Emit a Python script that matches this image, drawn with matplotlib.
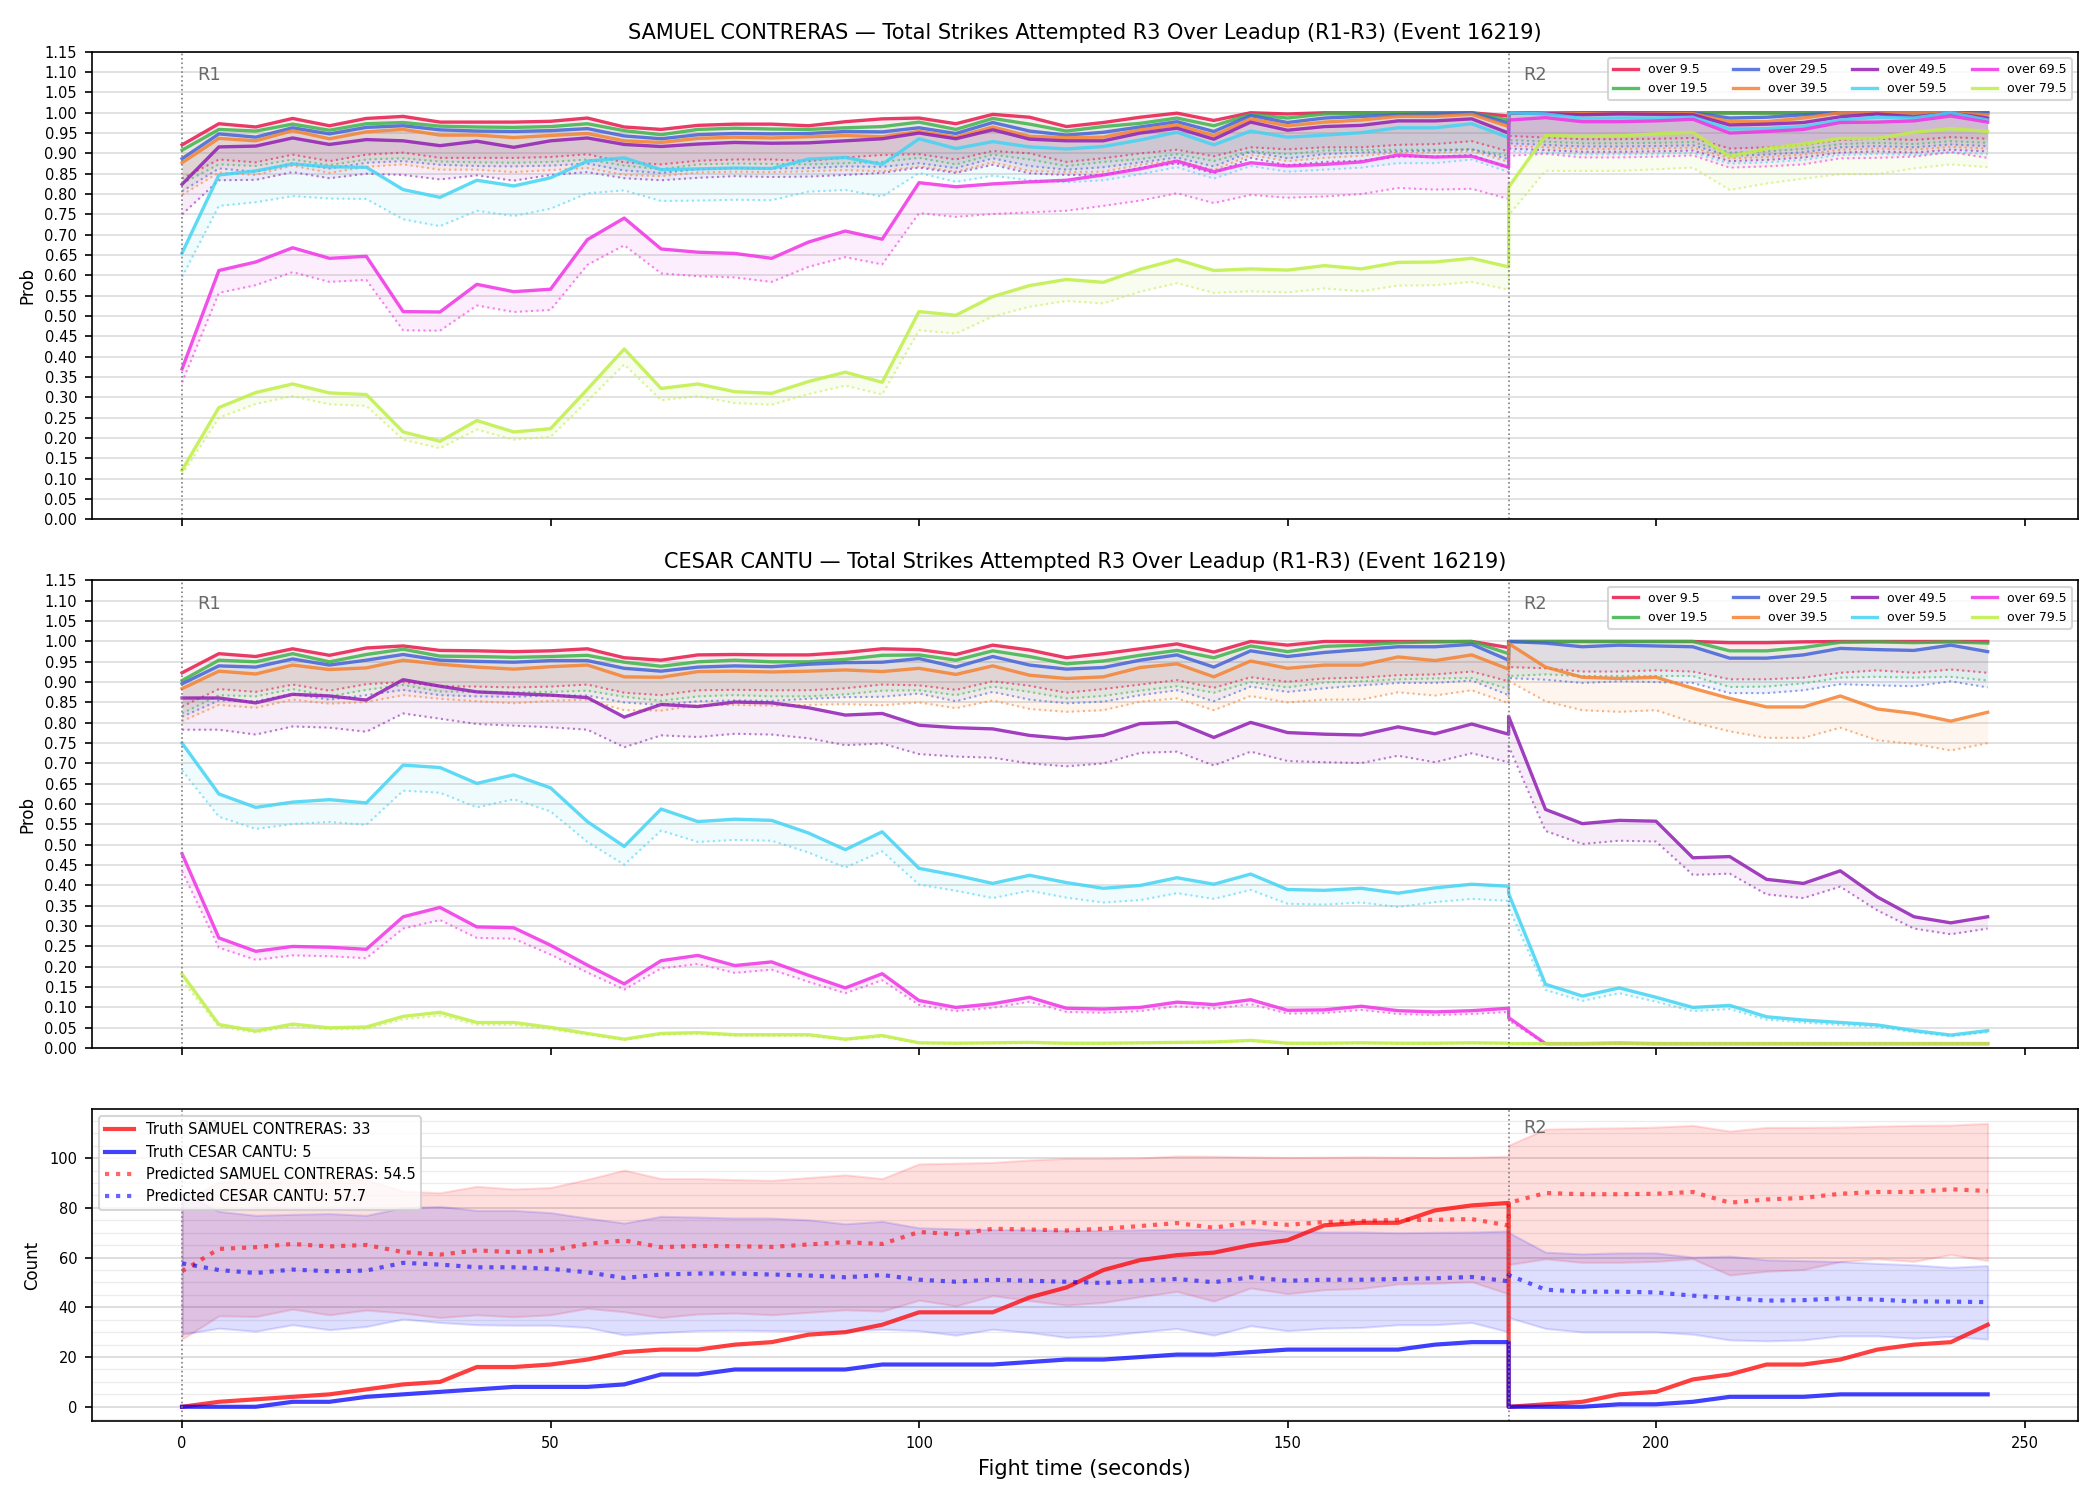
import matplotlib
matplotlib.use("Agg")
import matplotlib.pyplot as plt
from matplotlib.ticker import MultipleLocator

# time axis: round 1 runs 0..180, round 2 restarts at 180
t = list(range(0, 181, 5)) + list(range(180, 246, 5))

thresholds = ['over 9.5', 'over 19.5', 'over 29.5', 'over 39.5',
              'over 49.5', 'over 59.5', 'over 69.5', 'over 79.5']
colors = ['#e6194b', '#3cb44b', '#4363d8', '#f58231',
          '#911eb4', '#42d4f4', '#f032e6', '#bfef45']

# ---- SAMUEL CONTRERAS probabilities (solid = estimate, lo = dotted lower line)
sc_hi = {
    'over 9.5': [0.921, 0.973, 0.965, 0.986, 0.968, 0.986, 0.991, 0.977, 0.977, 0.977, 0.979, 0.987, 0.965, 0.959, 0.969, 0.972, 0.972, 0.968, 0.978, 0.985, 0.987, 0.973, 0.996, 0.989, 0.966, 0.976, 0.989, 0.999, 0.981, 1.0, 0.997, 1.0, 1.0, 1.0, 1.0, 1.0, 0.992,
                 1.0, 1.0, 1.0, 1.0, 1.0, 1.0, 1.0, 1.0, 1.0, 1.0, 1.0, 1.0, 1.0, 1.0],
    'over 19.5': [0.908, 0.959, 0.955, 0.972, 0.957, 0.973, 0.976, 0.967, 0.965, 0.964, 0.966, 0.973, 0.956, 0.946, 0.959, 0.962, 0.96, 0.959, 0.963, 0.966, 0.977, 0.959, 0.986, 0.972, 0.955, 0.966, 0.974, 0.987, 0.968, 0.996, 0.987, 0.997, 0.998, 0.999, 0.999, 1.0, 0.982,
                  1.0, 1.0, 1.0, 1.0, 1.0, 1.0, 0.999, 0.999, 0.999, 1.0, 1.0, 1.0, 1.0, 1.0],
    'over 29.5': [0.887, 0.948, 0.94, 0.963, 0.948, 0.964, 0.968, 0.958, 0.955, 0.954, 0.956, 0.961, 0.943, 0.936, 0.946, 0.949, 0.948, 0.949, 0.954, 0.953, 0.963, 0.949, 0.976, 0.955, 0.945, 0.952, 0.965, 0.978, 0.954, 0.993, 0.976, 0.987, 0.991, 0.995, 0.997, 1.0, 0.974,
                  1.0, 1.0, 1.0, 1.0, 1.0, 1.0, 0.987, 0.989, 0.995, 1.0, 1.0, 1.0, 1.0, 1.0],
    'over 39.5': [0.877, 0.937, 0.931, 0.956, 0.936, 0.953, 0.959, 0.945, 0.945, 0.939, 0.944, 0.949, 0.931, 0.927, 0.937, 0.94, 0.938, 0.941, 0.944, 0.941, 0.954, 0.94, 0.965, 0.942, 0.939, 0.94, 0.958, 0.97, 0.944, 0.985, 0.968, 0.977, 0.982, 0.991, 0.991, 0.996, 0.966,
                  1.0, 1.0, 0.998, 0.998, 0.998, 0.998, 0.978, 0.978, 0.987, 1.0, 1.0, 1.0, 1.0, 0.995],
    'over 49.5': [0.824, 0.916, 0.918, 0.938, 0.922, 0.934, 0.931, 0.919, 0.93, 0.915, 0.931, 0.938, 0.922, 0.917, 0.923, 0.927, 0.925, 0.926, 0.931, 0.936, 0.95, 0.936, 0.958, 0.935, 0.931, 0.931, 0.95, 0.962, 0.935, 0.977, 0.957, 0.966, 0.969, 0.98, 0.98, 0.985, 0.95,
                  1.0, 0.998, 0.995, 0.997, 0.996, 0.995, 0.97, 0.972, 0.976, 0.99, 0.997, 0.99, 0.999, 0.987],
    'over 59.5': [0.655, 0.847, 0.857, 0.874, 0.867, 0.866, 0.811, 0.792, 0.834, 0.82, 0.84, 0.881, 0.889, 0.86, 0.862, 0.864, 0.863, 0.886, 0.89, 0.873, 0.936, 0.912, 0.929, 0.916, 0.911, 0.917, 0.933, 0.952, 0.921, 0.955, 0.94, 0.945, 0.951, 0.963, 0.963, 0.973, 0.939,
                  1.0, 0.997, 0.986, 0.987, 0.987, 0.989, 0.96, 0.961, 0.966, 0.982, 0.989, 0.987, 1.0, 0.982],
    'over 69.5': [0.37, 0.612, 0.633, 0.668, 0.642, 0.647, 0.511, 0.51, 0.578, 0.56, 0.566, 0.688, 0.741, 0.665, 0.657, 0.654, 0.642, 0.682, 0.709, 0.689, 0.828, 0.818, 0.825, 0.83, 0.834, 0.847, 0.862, 0.881, 0.855, 0.877, 0.869, 0.873, 0.879, 0.896, 0.891, 0.893, 0.866,
                  0.982, 0.988, 0.978, 0.978, 0.98, 0.984, 0.95, 0.954, 0.959, 0.976, 0.977, 0.98, 0.992, 0.977],
    'over 79.5': [0.121, 0.275, 0.312, 0.333, 0.311, 0.307, 0.215, 0.192, 0.243, 0.215, 0.223, 0.32, 0.419, 0.322, 0.333, 0.314, 0.31, 0.339, 0.362, 0.337, 0.511, 0.502, 0.548, 0.575, 0.59, 0.583, 0.615, 0.639, 0.612, 0.616, 0.613, 0.624, 0.616, 0.632, 0.633, 0.642, 0.621,
                  0.817, 0.944, 0.942, 0.943, 0.948, 0.952, 0.892, 0.912, 0.923, 0.937, 0.937, 0.952, 0.961, 0.954],
}
sc_lo = {
    'over 9.5': [0.838, 0.885, 0.878, 0.897, 0.881, 0.897, 0.902, 0.889, 0.889, 0.889, 0.891, 0.898, 0.878, 0.873, 0.882, 0.885, 0.885, 0.881, 0.89, 0.896, 0.898, 0.885, 0.906, 0.9, 0.879, 0.888, 0.9, 0.909, 0.893, 0.915, 0.91, 0.915, 0.915, 0.921, 0.923, 0.93, 0.905,
                 0.943, 0.939, 0.935, 0.935, 0.936, 0.938, 0.912, 0.915, 0.921, 0.933, 0.936, 0.933, 0.94, 0.936],
    'over 19.5': [0.826, 0.873, 0.869, 0.885, 0.871, 0.885, 0.888, 0.88, 0.878, 0.877, 0.879, 0.885, 0.87, 0.861, 0.873, 0.875, 0.874, 0.873, 0.876, 0.879, 0.889, 0.873, 0.897, 0.885, 0.869, 0.879, 0.886, 0.898, 0.881, 0.906, 0.898, 0.907, 0.908, 0.909, 0.909, 0.91, 0.894,
                  0.933, 0.929, 0.925, 0.925, 0.926, 0.928, 0.902, 0.905, 0.911, 0.923, 0.926, 0.923, 0.93, 0.926],
    'over 29.5': [0.807, 0.863, 0.855, 0.876, 0.863, 0.877, 0.881, 0.872, 0.869, 0.868, 0.87, 0.875, 0.858, 0.852, 0.861, 0.864, 0.863, 0.864, 0.868, 0.867, 0.876, 0.864, 0.888, 0.869, 0.86, 0.866, 0.878, 0.89, 0.868, 0.904, 0.888, 0.898, 0.902, 0.905, 0.907, 0.91, 0.886,
                  0.925, 0.921, 0.917, 0.917, 0.918, 0.92, 0.894, 0.897, 0.903, 0.915, 0.918, 0.915, 0.922, 0.918],
    'over 39.5': [0.798, 0.853, 0.847, 0.87, 0.852, 0.867, 0.873, 0.86, 0.86, 0.854, 0.859, 0.864, 0.847, 0.844, 0.853, 0.855, 0.854, 0.856, 0.859, 0.856, 0.868, 0.855, 0.878, 0.857, 0.854, 0.855, 0.872, 0.883, 0.859, 0.896, 0.881, 0.889, 0.894, 0.902, 0.902, 0.906, 0.879,
                  0.919, 0.915, 0.911, 0.911, 0.912, 0.914, 0.888, 0.891, 0.897, 0.909, 0.912, 0.909, 0.916, 0.912],
    'over 49.5': [0.75, 0.834, 0.835, 0.854, 0.839, 0.85, 0.847, 0.836, 0.846, 0.833, 0.847, 0.854, 0.839, 0.834, 0.84, 0.844, 0.842, 0.843, 0.847, 0.852, 0.865, 0.852, 0.872, 0.851, 0.847, 0.847, 0.865, 0.875, 0.851, 0.889, 0.871, 0.879, 0.882, 0.892, 0.892, 0.896, 0.865,
                  0.912, 0.908, 0.904, 0.904, 0.905, 0.907, 0.881, 0.884, 0.89, 0.902, 0.905, 0.902, 0.909, 0.905],
    'over 59.5': [0.596, 0.771, 0.78, 0.795, 0.789, 0.788, 0.738, 0.721, 0.759, 0.746, 0.764, 0.802, 0.809, 0.783, 0.784, 0.786, 0.785, 0.806, 0.81, 0.794, 0.852, 0.83, 0.845, 0.834, 0.829, 0.834, 0.849, 0.866, 0.838, 0.869, 0.855, 0.86, 0.865, 0.876, 0.876, 0.885, 0.854,
                  0.906, 0.902, 0.898, 0.898, 0.899, 0.901, 0.875, 0.878, 0.884, 0.896, 0.899, 0.896, 0.903, 0.899],
    'over 69.5': [0.337, 0.557, 0.576, 0.608, 0.584, 0.589, 0.465, 0.464, 0.526, 0.51, 0.515, 0.626, 0.674, 0.605, 0.598, 0.595, 0.584, 0.621, 0.645, 0.627, 0.753, 0.744, 0.751, 0.755, 0.759, 0.771, 0.784, 0.802, 0.778, 0.798, 0.791, 0.794, 0.8, 0.815, 0.811, 0.813, 0.788,
                  0.894, 0.899, 0.89, 0.89, 0.892, 0.895, 0.865, 0.868, 0.873, 0.888, 0.889, 0.892, 0.903, 0.889],
    'over 79.5': [0.11, 0.25, 0.284, 0.303, 0.283, 0.279, 0.196, 0.175, 0.221, 0.196, 0.203, 0.291, 0.381, 0.293, 0.303, 0.286, 0.282, 0.308, 0.329, 0.307, 0.465, 0.457, 0.499, 0.523, 0.537, 0.531, 0.56, 0.581, 0.557, 0.561, 0.558, 0.568, 0.561, 0.575, 0.576, 0.584, 0.565,
                  0.748, 0.857, 0.857, 0.857, 0.861, 0.865, 0.81, 0.826, 0.838, 0.849, 0.849, 0.863, 0.873, 0.866],
}

# ---- CESAR CANTU probabilities
cc_hi = {
    'over 9.5': [0.923, 0.97, 0.963, 0.982, 0.966, 0.984, 0.989, 0.978, 0.977, 0.975, 0.977, 0.982, 0.96, 0.954, 0.967, 0.968, 0.967, 0.967, 0.973, 0.982, 0.98, 0.968, 0.991, 0.979, 0.96, 0.97, 0.982, 0.994, 0.974, 1.0, 0.991, 1.0, 1.0, 1.0, 1.0, 1.0, 0.985,
                 1.0, 1.0, 1.0, 1.0, 1.0, 1.0, 0.997, 0.997, 0.999, 1.0, 1.0, 1.0, 1.0, 1.0],
    'over 19.5': [0.904, 0.954, 0.95, 0.97, 0.95, 0.968, 0.981, 0.964, 0.963, 0.961, 0.963, 0.966, 0.949, 0.939, 0.95, 0.954, 0.95, 0.95, 0.956, 0.966, 0.967, 0.954, 0.977, 0.963, 0.945, 0.952, 0.966, 0.978, 0.96, 0.989, 0.975, 0.988, 0.991, 0.997, 0.999, 1.0, 0.97,
                  1.0, 1.0, 1.0, 1.0, 1.0, 1.0, 0.977, 0.977, 0.985, 0.998, 0.999, 0.997, 0.999, 0.996],
    'over 29.5': [0.896, 0.94, 0.937, 0.957, 0.942, 0.954, 0.968, 0.954, 0.951, 0.949, 0.953, 0.953, 0.934, 0.927, 0.937, 0.94, 0.938, 0.944, 0.948, 0.949, 0.958, 0.937, 0.963, 0.942, 0.932, 0.936, 0.954, 0.967, 0.937, 0.977, 0.963, 0.973, 0.98, 0.987, 0.987, 0.993, 0.954,
                  1.0, 0.996, 0.987, 0.991, 0.989, 0.987, 0.959, 0.959, 0.967, 0.983, 0.98, 0.978, 0.991, 0.975],
    'over 39.5': [0.884, 0.927, 0.92, 0.942, 0.931, 0.935, 0.954, 0.944, 0.937, 0.932, 0.938, 0.942, 0.913, 0.912, 0.926, 0.927, 0.925, 0.927, 0.93, 0.926, 0.934, 0.919, 0.94, 0.917, 0.909, 0.913, 0.936, 0.945, 0.913, 0.952, 0.934, 0.942, 0.942, 0.962, 0.953, 0.967, 0.932,
                  0.995, 0.937, 0.912, 0.909, 0.912, 0.885, 0.86, 0.839, 0.839, 0.866, 0.834, 0.823, 0.804, 0.826],
    'over 49.5': [0.861, 0.861, 0.849, 0.87, 0.866, 0.856, 0.906, 0.89, 0.876, 0.872, 0.868, 0.862, 0.814, 0.845, 0.84, 0.851, 0.849, 0.837, 0.819, 0.823, 0.794, 0.788, 0.785, 0.769, 0.761, 0.769, 0.798, 0.801, 0.764, 0.801, 0.776, 0.772, 0.77, 0.79, 0.773, 0.797, 0.772,
                  0.816, 0.587, 0.552, 0.56, 0.558, 0.468, 0.471, 0.415, 0.405, 0.436, 0.372, 0.323, 0.308, 0.323],
    'over 59.5': [0.75, 0.625, 0.592, 0.605, 0.611, 0.603, 0.696, 0.69, 0.651, 0.672, 0.64, 0.557, 0.496, 0.588, 0.557, 0.563, 0.56, 0.529, 0.488, 0.532, 0.442, 0.425, 0.405, 0.425, 0.407, 0.393, 0.4, 0.419, 0.403, 0.428, 0.39, 0.388, 0.393, 0.381, 0.394, 0.403, 0.398,
                  0.38, 0.157, 0.128, 0.148, 0.125, 0.1, 0.105, 0.077, 0.069, 0.063, 0.057, 0.043, 0.032, 0.043],
    'over 69.5': [0.478, 0.271, 0.238, 0.25, 0.248, 0.243, 0.323, 0.346, 0.298, 0.296, 0.253, 0.204, 0.158, 0.215, 0.228, 0.203, 0.212, 0.179, 0.148, 0.183, 0.117, 0.1, 0.109, 0.125, 0.098, 0.096, 0.1, 0.113, 0.107, 0.119, 0.093, 0.094, 0.103, 0.092, 0.089, 0.092, 0.098,
                  0.075, 0.011, 0.011, 0.012, 0.011, 0.011, 0.011, 0.011, 0.011, 0.011, 0.011, 0.011, 0.011, 0.011],
    'over 79.5': [0.182, 0.058, 0.042, 0.059, 0.05, 0.052, 0.078, 0.088, 0.063, 0.063, 0.051, 0.036, 0.022, 0.036, 0.038, 0.033, 0.033, 0.033, 0.022, 0.031, 0.013, 0.012, 0.013, 0.014, 0.012, 0.012, 0.013, 0.014, 0.015, 0.019, 0.012, 0.012, 0.013, 0.012, 0.012, 0.013, 0.012,
                  0.011, 0.011, 0.011, 0.011, 0.011, 0.011, 0.011, 0.011, 0.011, 0.011, 0.011, 0.011, 0.011, 0.011],
}
cc_lo = {
    'over 9.5': [0.84, 0.883, 0.876, 0.894, 0.879, 0.895, 0.9, 0.89, 0.889, 0.887, 0.889, 0.894, 0.874, 0.868, 0.88, 0.881, 0.88, 0.88, 0.885, 0.894, 0.892, 0.881, 0.902, 0.891, 0.874, 0.883, 0.894, 0.905, 0.886, 0.912, 0.901, 0.909, 0.911, 0.917, 0.919, 0.926, 0.902,
                 0.937, 0.934, 0.926, 0.926, 0.929, 0.926, 0.907, 0.907, 0.911, 0.923, 0.929, 0.923, 0.931, 0.923],
    'over 19.5': [0.823, 0.868, 0.865, 0.883, 0.865, 0.881, 0.893, 0.877, 0.876, 0.875, 0.876, 0.879, 0.864, 0.854, 0.865, 0.868, 0.865, 0.865, 0.87, 0.879, 0.88, 0.868, 0.889, 0.876, 0.86, 0.866, 0.879, 0.89, 0.874, 0.9, 0.887, 0.899, 0.902, 0.907, 0.909, 0.91, 0.883,
                  0.915, 0.919, 0.915, 0.915, 0.915, 0.915, 0.888, 0.889, 0.897, 0.911, 0.913, 0.911, 0.913, 0.904],
    'over 29.5': [0.815, 0.855, 0.853, 0.871, 0.857, 0.868, 0.881, 0.868, 0.865, 0.864, 0.867, 0.867, 0.85, 0.844, 0.853, 0.855, 0.854, 0.859, 0.863, 0.864, 0.872, 0.853, 0.876, 0.857, 0.848, 0.852, 0.868, 0.88, 0.853, 0.889, 0.876, 0.885, 0.892, 0.898, 0.898, 0.904, 0.868,
                  0.91, 0.906, 0.898, 0.902, 0.9, 0.898, 0.873, 0.873, 0.88, 0.895, 0.892, 0.89, 0.902, 0.887],
    'over 39.5': [0.804, 0.844, 0.837, 0.857, 0.847, 0.851, 0.868, 0.859, 0.853, 0.848, 0.854, 0.857, 0.831, 0.83, 0.843, 0.844, 0.842, 0.844, 0.846, 0.843, 0.85, 0.836, 0.855, 0.834, 0.827, 0.831, 0.852, 0.86, 0.831, 0.866, 0.85, 0.857, 0.857, 0.875, 0.867, 0.88, 0.848,
                  0.903, 0.853, 0.831, 0.827, 0.831, 0.801, 0.779, 0.763, 0.763, 0.788, 0.757, 0.748, 0.732, 0.75],
    'over 49.5': [0.783, 0.783, 0.771, 0.791, 0.788, 0.778, 0.823, 0.81, 0.797, 0.793, 0.789, 0.783, 0.74, 0.769, 0.765, 0.773, 0.771, 0.762, 0.745, 0.749, 0.723, 0.717, 0.714, 0.7, 0.693, 0.7, 0.726, 0.729, 0.695, 0.729, 0.706, 0.703, 0.701, 0.719, 0.703, 0.725, 0.703,
                  0.743, 0.534, 0.502, 0.51, 0.508, 0.426, 0.429, 0.378, 0.369, 0.397, 0.339, 0.294, 0.28, 0.294],
    'over 59.5': [0.683, 0.569, 0.539, 0.551, 0.556, 0.549, 0.633, 0.628, 0.592, 0.612, 0.582, 0.507, 0.451, 0.535, 0.507, 0.512, 0.51, 0.481, 0.444, 0.484, 0.402, 0.387, 0.369, 0.387, 0.37, 0.358, 0.364, 0.381, 0.367, 0.389, 0.355, 0.353, 0.358, 0.347, 0.359, 0.367, 0.362,
                  0.346, 0.143, 0.116, 0.135, 0.114, 0.091, 0.096, 0.07, 0.063, 0.057, 0.052, 0.039, 0.029, 0.039],
    'over 69.5': [0.435, 0.247, 0.217, 0.228, 0.226, 0.221, 0.294, 0.315, 0.271, 0.269, 0.23, 0.186, 0.144, 0.196, 0.207, 0.185, 0.193, 0.163, 0.135, 0.167, 0.106, 0.091, 0.099, 0.114, 0.089, 0.087, 0.091, 0.103, 0.097, 0.108, 0.085, 0.086, 0.094, 0.084, 0.081, 0.084, 0.089,
                  0.068, 0.01, 0.01, 0.01, 0.01, 0.01, 0.01, 0.01, 0.01, 0.01, 0.01, 0.01, 0.01, 0.01],
    'over 79.5': [0.166, 0.053, 0.038, 0.054, 0.046, 0.047, 0.071, 0.08, 0.057, 0.057, 0.046, 0.033, 0.02, 0.033, 0.035, 0.03, 0.03, 0.03, 0.02, 0.028, 0.012, 0.011, 0.012, 0.013, 0.011, 0.011, 0.012, 0.013, 0.014, 0.017, 0.011, 0.011, 0.012, 0.011, 0.011, 0.012, 0.011,
                  0.01, 0.01, 0.01, 0.01, 0.01, 0.01, 0.01, 0.01, 0.01, 0.01, 0.01, 0.01, 0.01, 0.01],
}

# ---- counts
truth_sc = [0, 2, 3, 4, 5, 7, 9, 10, 16, 16, 17, 19, 22, 23, 23, 25, 26, 29, 30, 33, 38, 38, 38, 44, 48, 55, 59, 61, 62, 65, 67, 73, 74, 74, 79, 81, 82,
            0, 1, 2, 5, 6, 11, 13, 17, 17, 19, 23, 25, 26, 33]
truth_cc = [0, 0, 0, 2, 2, 4, 5, 6, 7, 8, 8, 8, 9, 13, 13, 15, 15, 15, 15, 17, 17, 17, 17, 18, 19, 19, 20, 21, 21, 22, 23, 23, 23, 23, 25, 26, 26,
            0, 0, 0, 1, 1, 2, 4, 4, 4, 5, 5, 5, 5, 5]
pred_sc = [54.5, 63.5, 64.2, 65.5, 64.5, 65.1, 62.2, 61.2, 62.9, 62.2, 62.9, 65.5, 66.9, 64.2, 64.7, 64.6, 64.3, 65.3, 66.2, 65.5, 70.3, 69.4, 71.6, 71.3, 70.9, 71.6, 72.7, 73.9, 72.0, 74.3, 73.2, 74.3, 74.7, 75.2, 75.2, 75.5, 72.9,
           82.0, 86.0, 85.5, 85.5, 85.7, 86.4, 82.1, 83.4, 84.0, 85.7, 86.4, 86.4, 87.5, 86.8]
pred_sc_lo = [27.2, 36.6, 36.3, 39.3, 37.0, 38.9, 37.7, 35.9, 37.0, 36.2, 37.0, 39.6, 38.2, 35.9, 37.3, 37.7, 37.0, 38.0, 39.0, 38.5, 42.9, 40.6, 44.7, 42.7, 40.9, 42.0, 44.3, 46.4, 42.5, 47.8, 45.5, 47.1, 47.6, 49.4, 49.7, 50.3, 45.4,
              57.2, 59.5, 58.1, 58.1, 58.5, 59.5, 53.0, 54.5, 55.2, 58.4, 59.5, 58.5, 61.2, 58.8]
pred_sc_hi = [82.4, 90.4, 92.1, 91.7, 92.0, 91.3, 86.7, 86.1, 88.7, 87.6, 88.2, 91.5, 95.2, 91.8, 91.8, 91.4, 91.1, 92.2, 93.3, 91.8, 97.7, 98.0, 98.3, 99.3, 99.9, 99.9, 100.1, 100.9, 100.8, 100.5, 100.3, 100.4, 100.5, 100.4, 100.3, 100.4, 100.8,
              105.2, 111.7, 112.0, 112.2, 112.5, 113.2, 110.9, 112.4, 112.4, 112.5, 112.9, 113.2, 113.3, 114.0]
pred_cc = [57.7, 55.0, 53.8, 55.2, 54.5, 54.8, 57.9, 57.2, 56.1, 56.1, 55.5, 54.1, 51.8, 53.2, 53.6, 53.6, 53.2, 52.8, 52.1, 53.0, 51.1, 50.3, 51.1, 50.7, 50.3, 49.8, 50.7, 51.4, 50.1, 52.1, 50.7, 51.1, 51.1, 51.4, 51.7, 52.2, 50.5,
           53.0, 47.1, 46.3, 46.3, 46.0, 44.7, 43.7, 42.7, 42.9, 43.6, 43.1, 42.4, 42.3, 42.1]
pred_cc_lo = [29.2, 31.6, 30.4, 33.0, 31.0, 32.3, 35.3, 33.9, 33.0, 32.8, 32.8, 31.9, 28.9, 29.9, 30.6, 30.8, 30.6, 30.4, 30.4, 31.2, 30.6, 28.8, 31.2, 29.9, 27.9, 28.5, 30.1, 31.5, 28.8, 32.6, 30.6, 31.6, 31.9, 33.0, 33.0, 33.9, 30.1,
              35.9, 31.5, 30.1, 30.1, 30.1, 29.2, 26.9, 26.5, 26.9, 28.5, 28.5, 27.6, 28.3, 27.2]
pred_cc_hi = [86.2, 78.6, 77.0, 77.4, 77.7, 77.0, 80.1, 80.6, 79.0, 79.0, 78.1, 75.9, 73.9, 76.6, 76.3, 75.9, 75.9, 75.2, 73.6, 74.6, 72.0, 71.6, 71.2, 71.2, 70.9, 70.9, 71.2, 71.3, 71.3, 71.6, 70.7, 70.3, 70.3, 70.0, 70.2, 70.3, 70.7,
              70.1, 62.2, 61.5, 61.9, 61.9, 60.2, 60.6, 59.1, 58.8, 58.4, 57.7, 57.1, 56.1, 56.8]

rounds = [(0, 'R1'), (180, 'R2')]

fig, axes = plt.subplots(3, 1, figsize=(14, 10), dpi=150, sharex=True,
                         gridspec_kw={'height_ratios': [1.5, 1.5, 1]})
fig.subplots_adjust(left=0.0437, right=0.9895, top=0.9655, bottom=0.0527, hspace=0.147)


def mark_rounds(ax):
    for x, name in rounds:
        ax.axvline(x, color='gray', linestyle=':', linewidth=0.8)
        ax.text(x + 2, 0.97, name, transform=ax.get_xaxis_transform(),
                va='top', ha='left', color='dimgray', fontsize=8.5)


panels = [('SAMUEL CONTRERAS', sc_hi, sc_lo), ('CESAR CANTU', cc_hi, cc_lo)]
for ax, (name, hi, lo) in zip(axes[:2], panels):
    for label, c in zip(thresholds, colors):
        ax.fill_between(t, lo[label], hi[label], color=c, alpha=0.08, linewidth=0)
        ax.plot(t, hi[label], color=c, linewidth=1.6, alpha=0.85, label=label)
        ax.plot(t, lo[label], color=c, linewidth=1.0, alpha=0.6, linestyle=':')
    ax.set_ylim(0, 1.15)
    ax.yaxis.set_major_locator(MultipleLocator(0.05))
    ax.yaxis.set_major_formatter('{x:.2f}')
    ax.grid(axis='y', color='#dddddd', linewidth=0.8)
    ax.set_axisbelow(True)
    ax.set_ylabel('Prob', fontsize=8)
    ax.tick_params(labelsize=7)
    ax.set_title(name + ' \u2014 Total Strikes Attempted R3 Over Leadup (R1-R3) (Event 16219)', fontsize=10)
    mark_rounds(ax)
    ax.legend(loc='upper right', ncol=4, fontsize=6)

ax = axes[2]
ax.fill_between(t, pred_sc_lo, pred_sc_hi, color='red', alpha=0.13)
ax.fill_between(t, pred_cc_lo, pred_cc_hi, color='blue', alpha=0.13)
ax.plot(t, truth_sc, color='red', linewidth=2, alpha=0.75, label='Truth SAMUEL CONTRERAS: 33')
ax.plot(t, truth_cc, color='blue', linewidth=2, alpha=0.75, label='Truth CESAR CANTU: 5')
ax.plot(t, pred_sc, color='red', linewidth=2, alpha=0.6, linestyle=':', label='Predicted SAMUEL CONTRERAS: 54.5')
ax.plot(t, pred_cc, color='blue', linewidth=2, alpha=0.6, linestyle=':', label='Predicted CESAR CANTU: 57.7')
ax.yaxis.set_minor_locator(MultipleLocator(5))
ax.grid(axis='y', which='major', color='#d8d8d8', linewidth=0.8)
ax.grid(axis='y', which='minor', color='#ececec', linewidth=0.6)
ax.set_axisbelow(True)
ax.tick_params(labelsize=7)
ax.tick_params(axis='y', which='minor', length=0)
ax.set_ylabel('Count', fontsize=8)
ax.set_xlabel('Fight time (seconds)', fontsize=10)
mark_rounds(ax)
ax.legend(loc='upper left', fontsize=7)

plt.savefig('out.png')
